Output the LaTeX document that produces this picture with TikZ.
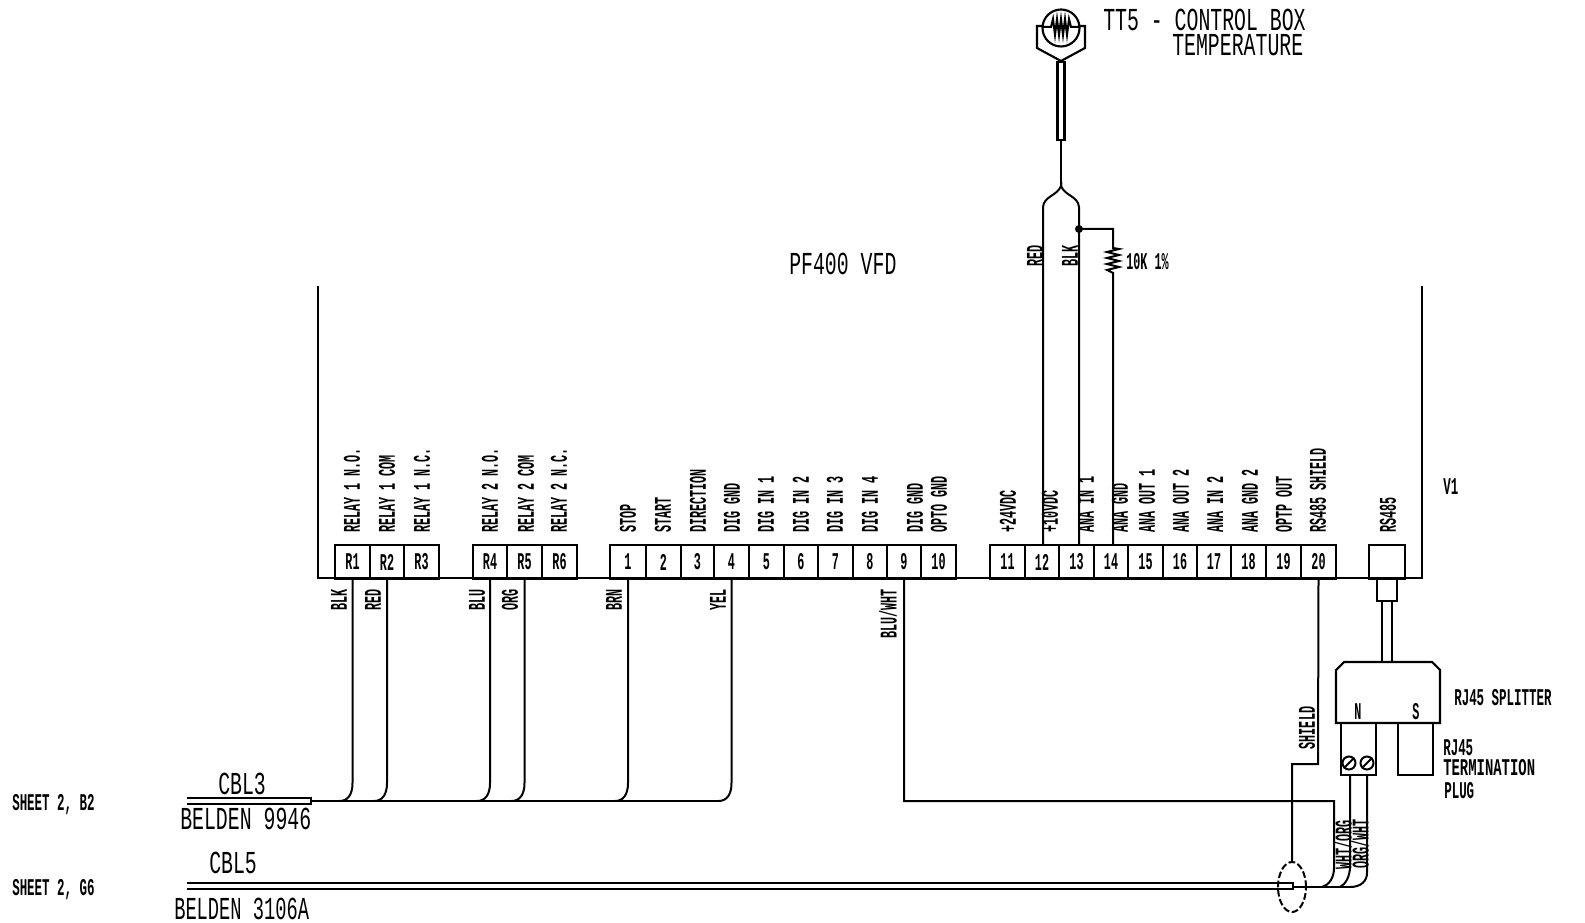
\documentclass[tikz,border=0pt]{standalone}
\usepackage{fontspec}
\usetikzlibrary{shapes.geometric}
\newfontfamily\cadbig[FakeStretch=0.62]{Liberation Mono}
\newfontfamily\cadbigb[FakeStretch=0.585]{Liberation Mono}
\newfontfamily\cadsm[FakeStretch=0.49]{Liberation Mono}
\newfontfamily\cadmid[FakeStretch=0.52]{Liberation Mono}
\newfontfamily\cadwide[FakeStretch=0.58]{Liberation Mono}
\tikzset{
  wire/.style={line width=1.6pt,line join=miter},
  thin wire/.style={line width=1.5pt},
  term/.style={draw,line width=1.6pt,rectangle,inner sep=0pt,minimum height=33.5*0.75pt,font=\cadsm\bfseries\fontsize{18}{18}\selectfont},
  up label/.style={rotate=90,anchor=west,inner sep=0pt,font=\cadsm\bfseries\fontsize{18}{18}\selectfont},
  down label/.style={rotate=90,anchor=east,inner sep=0pt,font=\cadsm\bfseries\fontsize{18}{18}\selectfont},
  big text/.style={anchor=west,inner sep=0pt,text height=15pt,text depth=0pt,font=\cadbig\fontsize{24}{24}\selectfont},
  small text/.style={anchor=west,inner sep=0pt,text height=11pt,text depth=0pt,font=\cadmid\bfseries\fontsize{18}{18}\selectfont},
  plain box/.style={draw,line width=1.6pt,rectangle,inner sep=0pt},
}
\newcommand{\termbox}[4]{\node[term,minimum width=#3*0.75pt-#2*0.75pt] (#1) at ({(#2+#3)/2},562) {#4};}
\begin{document}
\begin{tikzpicture}[x=0.75pt,y=-0.75pt]
\useasboundingbox (0,0) rectangle (1585,923);
% enclosure
\coordinate (wallTL) at (318,286);
\coordinate (wallBL) at (318,578);
\coordinate (wallBR) at (1422,578);
\coordinate (wallTR) at (1422,286);
\draw[wire] (wallTL) -- (wallBL) -- (wallBR) -- (wallTR);
% terminals
\termbox{R1}{335}{370}{R1}\termbox{R2}{370}{404}{R2}\termbox{R3}{404}{439}{R3}
\termbox{R4}{473}{507}{R4}\termbox{R5}{507}{542}{R5}\termbox{R6}{542}{577}{R6}
\termbox{T1}{610}{646}{1}\termbox{T2}{646}{681}{2}\termbox{T3}{681}{714}{3}\termbox{T4}{714}{749}{4}
\termbox{T5}{749}{784}{5}\termbox{T6}{784}{818}{6}\termbox{T7}{818}{853}{7}\termbox{T8}{853}{887}{8}
\termbox{T9}{887}{921}{9}\termbox{T10}{921}{956}{10}
\termbox{T11}{990}{1025}{11}\termbox{T12}{1025}{1059}{12}\termbox{T13}{1059}{1094}{13}\termbox{T14}{1094}{1128}{14}
\termbox{T15}{1128}{1163}{15}\termbox{T16}{1163}{1197}{16}\termbox{T17}{1197}{1231}{17}\termbox{T18}{1231}{1266}{18}
\termbox{T19}{1266}{1301}{19}\termbox{T20}{1301}{1336}{20}
\termbox{RS}{1369}{1405}{}
% terminal labels
\foreach \nm/\px/\tx in {a/352/RELAY 1 N.O.,b/387/RELAY 1 COM,c/422/RELAY 1 N.C.,d/490/RELAY 2 N.O.,e/526/RELAY 2 COM,f/559/RELAY 2 N.C.,g/628/STOP,h/663/START,i/698/DIRECTION,j/732/DIG GND,k/766/DIG IN 1,l/801/DIG IN 2,m/835/DIG IN 3,n/870/DIG IN 4,o/915/DIG GND,p/939/OPTO GND,q/1008/+24VDC,r/1050/+10VDC,s/1086/ANA IN 1,t/1120/ANA GND,u/1147/ANA OUT 1,v/1181/ANA OUT 2,w/1215/ANA IN 2,x/1250/ANA GND 2,y/1284/OPTP OUT,z/1318/RS485 SHIELD,aa/1388/RS485}
  \node[up label] (lab\nm) at (\px,533) {\tx};
% wire labels
\foreach \nm/\px/\tx in {a/339/BLK,b/373/RED,c/477/BLU,d/510/ORG,e/614/BRN,f/718/YEL,g/888/{BLU/WHT}}
  \node[down label] (low\nm) at (\px,589) {\tx};
% cable 3
\coordinate (c3a) at (187,798); \coordinate (c3b) at (311,798);
\coordinate (c3c) at (311,804); \coordinate (c3d) at (187,804);
\coordinate (c3e) at (311,801); \coordinate (c3f) at (719,801);
\draw[thin wire] (c3a) -- (c3b) -- (c3c) -- (c3d);
\draw[thin wire] (c3e) -- (c3f);
\foreach \n in {R1,R2,R4,R5,T1,T4}{
  \draw[thin wire] (\n.south) -- ([yshift=-205*0.75pt]\n.south |- wallBL)
    .. controls ([yshift=-217*0.75pt]\n.south |- wallBL) and ([xshift=-5*0.75pt,yshift=-223*0.75pt]\n.south |- wallBL)
    .. ([xshift=-13*0.75pt,yshift=-223*0.75pt]\n.south |- wallBL);
}
% cable 5
\coordinate (c5a) at (187,883); \coordinate (c5b) at (1293,883);
\coordinate (c5c) at (1293,889); \coordinate (c5d) at (187,889);
\coordinate (c5e) at (1293,887); \coordinate (c5f) at (1350,887);
\draw[thin wire] (c5a) -- (c5b) -- (c5c) -- (c5d);
\draw[thin wire] (c5e) -- (c5f);
% blue/white wire
\coordinate (bwa) at (904,801); \coordinate (bwb) at (1334,801); \coordinate (bwc) at (1334,868); \coordinate (bwd) at (1322,887);
\draw[thin wire] (T9.south) -- (bwa) -- (bwb) -- (bwc) .. controls (1334,878) and (1329,885) .. (bwd);
% shield
\node[draw,dash pattern=on 5pt off 2pt,line width=1.5pt,ellipse,minimum width=28*0.75pt,minimum height=50*0.75pt,inner sep=0pt] (shieldring) at (1292,887) {};
\coordinate (sha) at (1318,764); \coordinate (shb) at (1292,764);
\draw[thin wire] (T20.south) -- (sha) -- (shb) -- (shieldring.north);
\node[down label,anchor=center] (shieldlab) at (1307,728) {SHIELD};
% RS485 connector
\node[plain box,minimum width=20*0.75pt,minimum height=23*0.75pt] (rsplug) at (1387,589.5) {};
% splitter
\coordinate (spa) at (1336,723); \coordinate (spb) at (1336,670); \coordinate (spc) at (1344,662);
\coordinate (spd) at (1432,662); \coordinate (spe) at (1440,670); \coordinate (spf) at (1440,723);
\draw[wire] (spa) -- (spb) -- (spc) -- (spd) -- (spe) -- (spf) -- cycle;
\coordinate (sp1) at (1382,662); \coordinate (sp2) at (1392,662);
\draw[thin wire] (rsplug.south -| sp1) -- (sp1);
\draw[thin wire] (rsplug.south -| sp2) -- (sp2);
\node[plain box,minimum width=35*0.75pt,minimum height=52*0.75pt] (nbox) at (1358.5,749) {};
\node[plain box,minimum width=35*0.75pt,minimum height=52*0.75pt] (plug) at (1415.5,749) {};
\node[draw,circle,line width=1.5pt,minimum size=13*0.75pt,inner sep=0pt] (scr1) at (1349,763) {};
\node[draw,circle,line width=1.5pt,minimum size=13*0.75pt,inner sep=0pt] (scr2) at (1367,763) {};
\draw[thin wire] (scr1.south west) -- (scr1.north east);
\draw[thin wire] (scr2.south west) -- (scr2.north east);
\coordinate (woa) at (1350,775); \coordinate (wob) at (1350,866); \coordinate (woc) at (1340,887);
\draw[thin wire] (woa) -- (wob) .. controls (1350,876) and (1346,884) .. (woc);
\coordinate (owa) at (1367,775); \coordinate (owb) at (1367,873); \coordinate (owc) at (1350,887);
\draw[thin wire] (owa) -- (owb) .. controls (1367,881) and (1361,887) .. (owc);
\node[down label,anchor=center] (wolab) at (1343,845) {WHT/ORG};
\node[down label,anchor=center] (owlab) at (1360,844) {ORG/WHT};
\node[term,draw=none,minimum height=0pt] (nlab) at (1358,712) {N};
\node[term,draw=none,minimum height=0pt] (slab) at (1416,712) {S};
\node[small text] (rjsp) at (1454,698) {RJ45 SPLITTER};
\node[small text] (rj1) at (1443,748) {RJ45};
\node[small text,font=\cadwide\bfseries\fontsize{18}{18}\selectfont] (rj2) at (1443,768) {TERMINATION};
\node[small text] (rj3) at (1444,791) {PLUG};
% sensor
\node[plain box,minimum width=7*0.75pt,minimum height=78*0.75pt] (probe) at (1061,101) {};
\coordinate (hxa) at (1043,26); \coordinate (hxb) at (1037,26); \coordinate (hxc) at (1037,48);
\coordinate (hxd) at (1061,61); \coordinate (hxe) at (1085,48); \coordinate (hxf) at (1085,26); \coordinate (hxg) at (1080,26);
\draw[wire] (hxa) -- (hxb) -- (hxc) -- (hxd) -- (hxe) -- (hxf) -- (hxg);
\node[draw,circle,line width=1.6pt,minimum size=37*0.75pt,inner sep=0pt] (bulb) at (1061,28) {};
\coordinate (bla) at (1043,27); \coordinate (blb) at (1079,27);
\draw[thin wire] (bla) -- (1051,27) -- (1053,19) -- (1055,35) -- (1057,19) -- (1059,35) -- (1061,19) -- (1063,35) -- (1065,19) -- (1067,35) -- (1069,19) -- (1071,27) -- (blb);
\coordinate (fork) at (1061,182);
\coordinate (forkL) at (1043,207); \coordinate (forkR) at (1079,207);
\draw[thin wire] (probe.south) -- (fork);
\draw[thin wire] (fork) -- (1061,186) .. controls (1057,196) and (1044,196) .. (forkL) -- (forkL |- T12.north);
\draw[thin wire] (fork) -- (1061,186) .. controls (1065,196) and (1078,196) .. (forkR) -- (forkR |- T13.north);
\coordinate (junc) at (1079,229);
\fill (junc) circle (4);
\coordinate (rta) at (1113,229); \coordinate (rtb) at (1113,248); \coordinate (rtc) at (1113,273);
\draw[thin wire] (junc) -- (rta) -- (rtb) -- (1119,249) -- (1107,252) -- (1119,255) -- (1107,258) -- (1119,261) -- (1107,264) -- (1119,267) -- (1107,270) -- (rtc) -- (rtc |- T14.north);
\node[down label,anchor=center] (redlab) at (1035,256) {RED};
\node[down label,anchor=center] (blklab) at (1070,256) {BLK};
\node[small text,font=\cadsm\bfseries\fontsize{18}{18}\selectfont] (tenk) at (1126,262) {10K 1\%};
% big text
\node[big text] (tt5) at (1103,21) {TT5 - CONTROL BOX};
\node[big text] (temp) at (1172,46) {TEMPERATURE};
\node[big text] (vfd) at (789,265) {PF400 VFD};
\node[big text] (cbl3) at (218,784) {CBL3};
\node[big text] (b9946) at (180,819) {BELDEN 9946};
\node[big text] (cbl5) at (209,863) {CBL5};
\node[big text,font=\cadbigb\fontsize{24}{24}\selectfont] (b3106) at (174,909) {BELDEN 3106A};
\node[small text] (sh1) at (12,803) {SHEET 2, B2};
\node[small text] (sh2) at (12,888) {SHEET 2, G6};
\node[small text] (v1) at (1443,487) {V1};
\end{tikzpicture}
\end{document}
